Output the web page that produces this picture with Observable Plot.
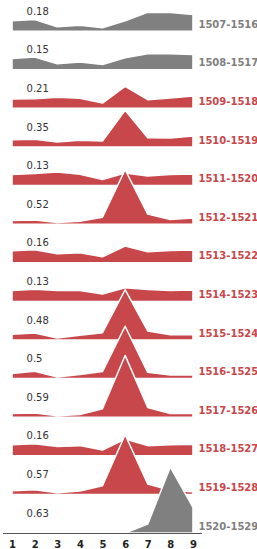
<!DOCTYPE html>
<html><head><meta charset="utf-8">
<script src="https://cdn.jsdelivr.net/npm/d3@7"></script>
<script src="https://cdn.jsdelivr.net/npm/@observablehq/plot@0.6"></script>
<style>
body{margin:0;background:#fff}
#chart svg [aria-label^="x-axis"] text{font-weight:bold;fill:#222}
</style>
</head><body><div id="chart"></div>
<script>
const positions = [1, 2, 3, 4, 5, 6, 7, 8, 9];
const periods = ["1507-1516","1508-1517","1509-1518","1510-1519","1511-1520","1512-1521","1513-1522",
  "1514-1523","1515-1524","1516-1525","1517-1526","1518-1527","1519-1528","1520-1529"];
const peakLabels = ["0.18","0.15","0.21","0.35","0.13","0.52","0.16","0.13","0.48","0.5","0.59","0.16","0.57","0.63"];
const highlighted = [false,false,true,true,true,true,true,true,true,true,true,true,true,false];

const v1507 = [0.099,0.111,0.041,0.057,0.032,0.099,0.180,0.178,0.159];
const v1508 = [0.108,0.121,0.057,0.073,0.051,0.115,0.153,0.152,0.146];
const v1509 = [0.089,0.092,0.105,0.096,0.051,0.210,0.083,0.099,0.118];
const v1510 = [0.070,0.073,0.048,0.064,0.057,0.350,0.089,0.086,0.105];
const v1511 = [0.105,0.115,0.130,0.108,0.057,0.120,0.092,0.105,0.111];
const v1512 = [0.035,0.041,0.016,0.029,0.067,0.520,0.096,0.045,0.060];
const v1513 = [0.115,0.124,0.086,0.096,0.057,0.160,0.105,0.118,0.121];
const v1514 = [0.105,0.117,0.105,0.104,0.070,0.130,0.113,0.105,0.108];
const v1515 = [0.054,0.067,0.019,0.045,0.070,0.480,0.086,0.051,0.051];
const v1516 = [0.048,0.070,0.015,0.038,0.067,0.500,0.060,0.035,0.035];
const v1517 = [0.035,0.041,0.013,0.025,0.080,0.590,0.092,0.035,0.038];
const v1518 = [0.105,0.115,0.088,0.097,0.055,0.160,0.097,0.105,0.111];
const v1519 = [0.035,0.045,0.016,0.032,0.083,0.570,0.100,0.040,0.025];
const v1520 = [0,0,0,0,0,0,0.085,0.630,0.245];
const seriesValues = [v1507,v1508,v1509,v1510,v1511,v1512,v1513,v1514,v1515,v1516,v1517,v1518,v1519,v1520];

const RED = "#c8474b", GRAY = "#808080";
const step = 0.3687;            // vertical offset between ridges (in value units)
const n = periods.length;
const rows = periods.map((p, i) => ({
  period: p, base: (n - 1 - i) * step, color: highlighted[i] ? RED : GRAY, label: peakLabels[i]
}));
const points = rows.flatMap((r, i) => positions.map((x, j) => ({
  x, period: r.period, base: r.base, top: r.base + seriesValues[i][j], color: r.color
})));

const chart = Plot.plot({
  width: 257, height: 549,
  marginTop: 0, marginBottom: 16, marginLeft: 3, marginRight: 55,
  style: {fontFamily: "DejaVu Sans", fontSize: "10px", background: "#fff", overflow: "visible"},
  x: {domain: [0.6, 9.4], ticks: positions, tickSize: 0, tickPadding: 7, tickFormat: d3.format("d"), label: null},
  y: {domain: [0, 533 / 104.7], axis: null},
  color: {type: "identity"},
  marks: [
    Plot.areaY(points, {x: "x", y1: "base", y2: "top", z: "period", fill: "color", stroke: "white", strokeWidth: 1.5}),
    Plot.text(rows, {x: 1, y: "base", text: "label", dx: 14, dy: -20, textAnchor: "start", fill: "#333"}),
    Plot.text(rows, {x: 9, y: "base", text: "period", dx: 5, dy: -7, textAnchor: "start", fill: "color", fontWeight: "bold"}),
    Plot.ruleY([0], {stroke: "#555"})
  ]
});
document.getElementById("chart").append(chart);
</script>
</body></html>
